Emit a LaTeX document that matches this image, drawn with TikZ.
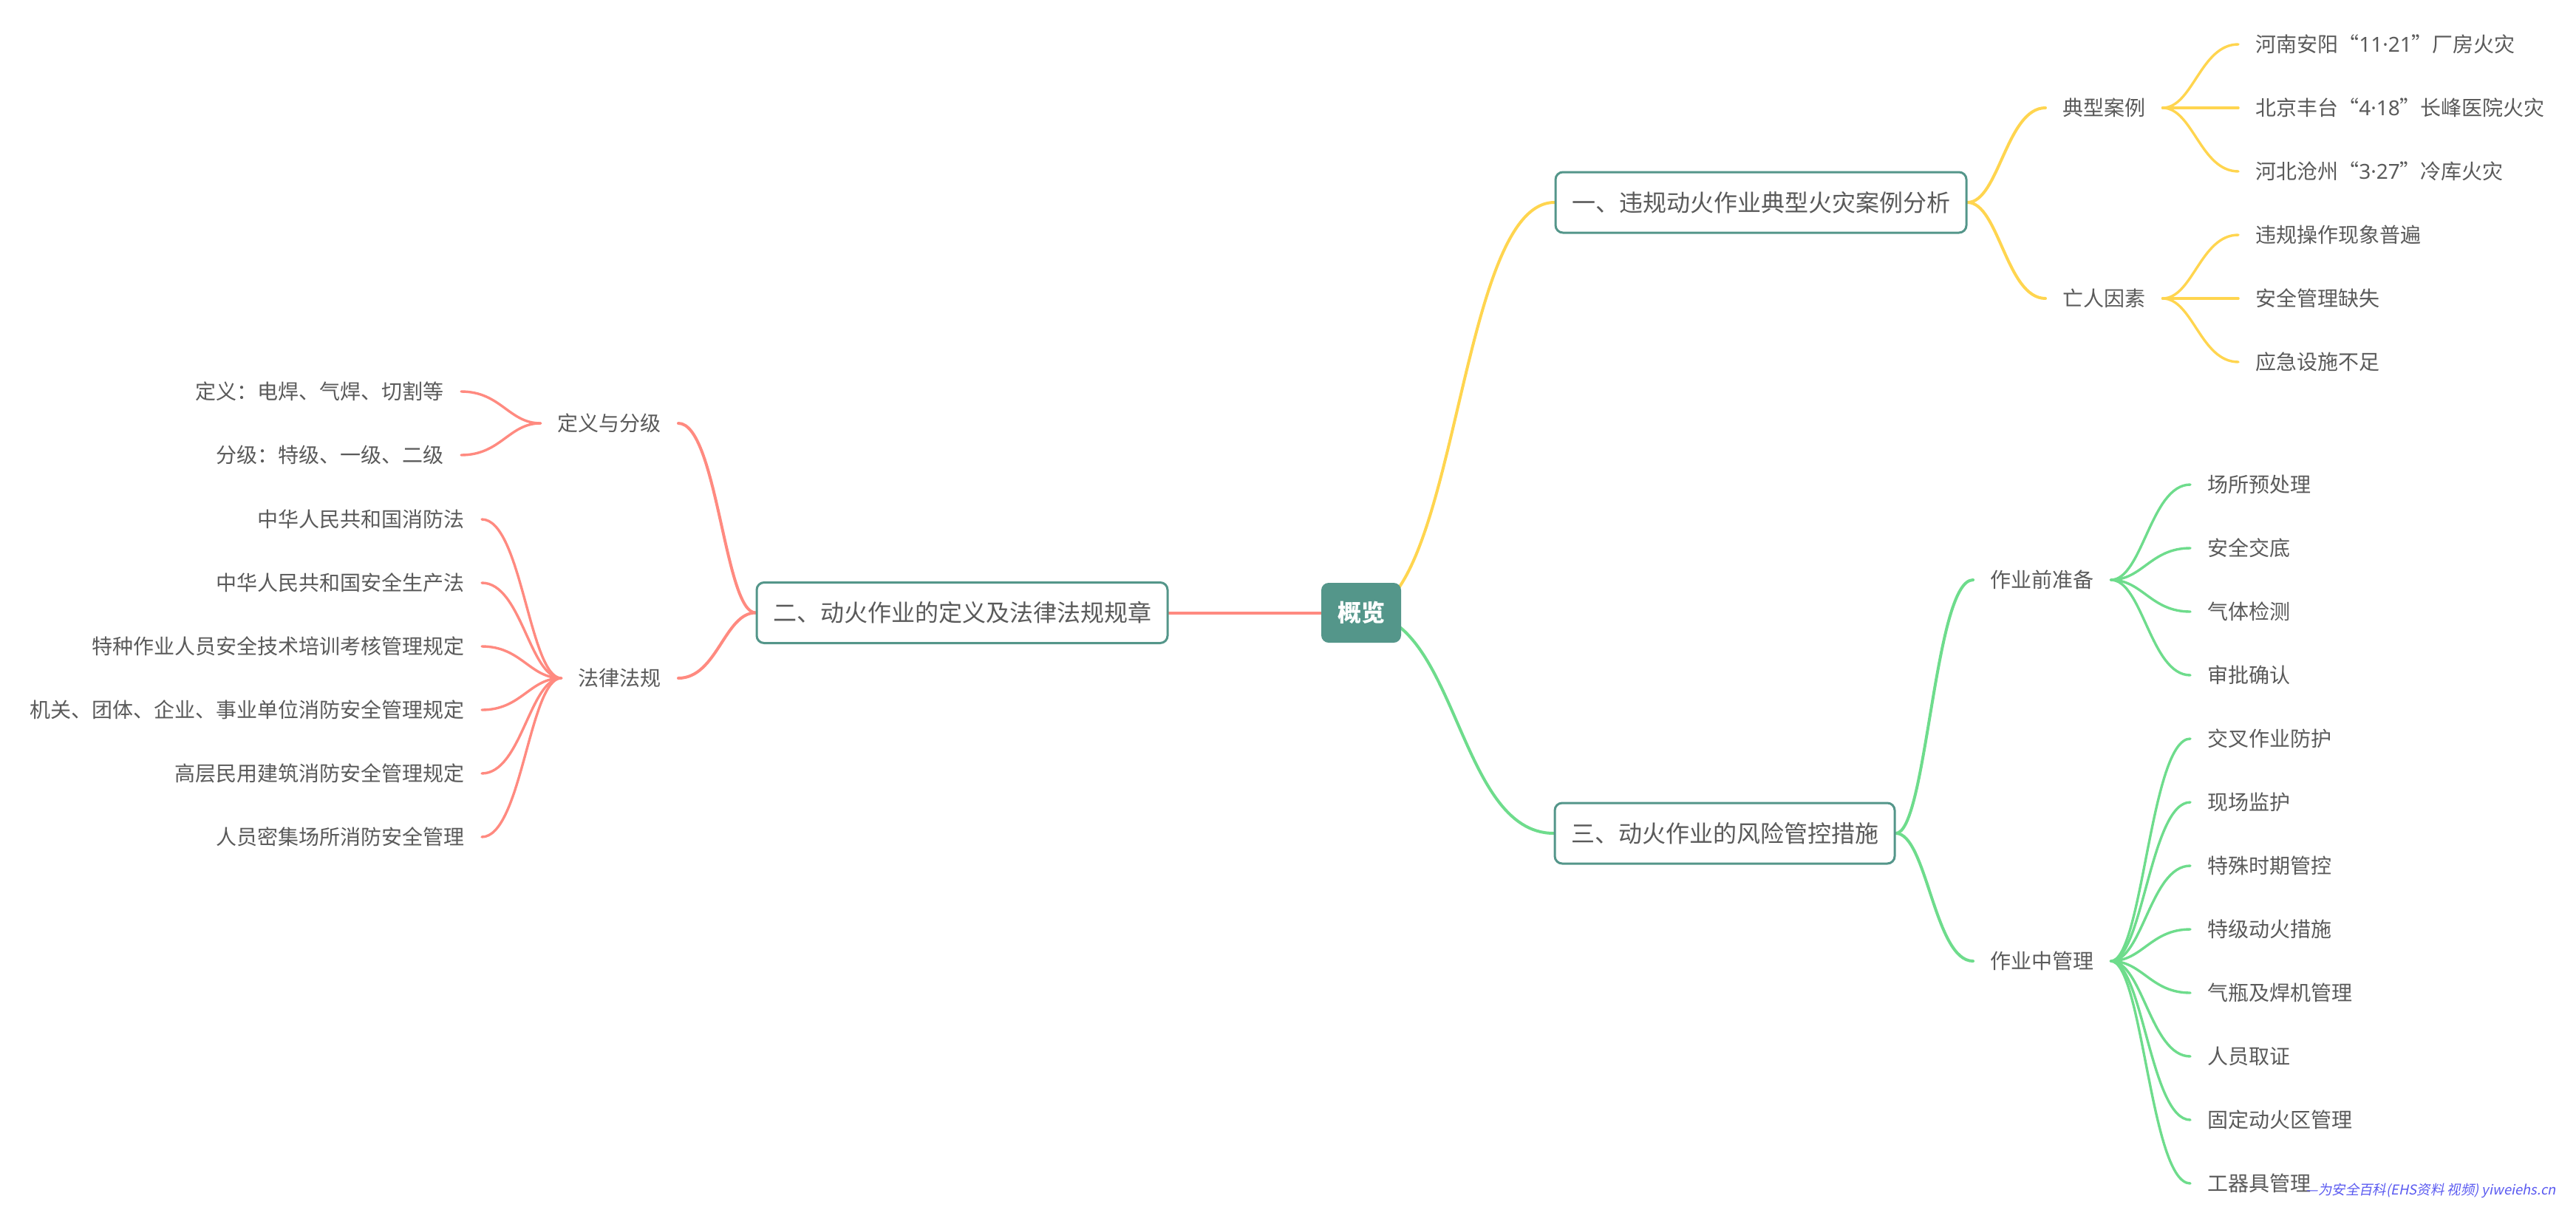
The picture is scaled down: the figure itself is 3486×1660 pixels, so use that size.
\documentclass[tikz,border=0pt]{standalone}
\usepackage{fontspec}
\setmainfont{Noto Sans CJK SC}
\newfontfamily\latn{Noto Sans}
\newfontfamily\wmfont[FakeSlant=0.2]{Noto Sans CJK SC}
\usetikzlibrary{calc}
\definecolor{tealc}{HTML}{54968A}
\definecolor{ylw}{HTML}{FFD54F}
\definecolor{redc}{HTML}{FF8A80}
\definecolor{grn}{HTML}{6EDC8C}
\definecolor{txt}{HTML}{5A5A5A}
\definecolor{wmblue}{HTML}{5A5AF0}
\pgfdeclarelayer{bg}
\pgfsetlayers{bg,main}
% #1 style, #2 first-control fraction, #3 from, #4 to
\newcommand\mmlink[4]{\draw[#1] let \p1=(#3), \p2=(#4) in (\p1) .. controls ({\x1+#2*(\x2-\x1)},\y1) and ({0.5*\x1+0.5*\x2},\y2) .. (\p2);}
\begin{document}
\begin{tikzpicture}[x=0.25pt,y=-0.25pt,
  box/.style={draw=tealc, line width=0.75pt, rounded corners=2.5pt, fill=white, text=txt,
    font=\fontsize{8pt}{9.6pt}\selectfont, inner xsep=5.5pt, inner ysep=0pt, minimum height=20.5pt},
  cbox/.style={fill=tealc, rounded corners=2.5pt, text=white, font=\bfseries\fontsize{8pt}{9.6pt}\selectfont,
    minimum width=27pt, minimum height=20.25pt, inner sep=0pt},
  sub/.style={text=txt, font=\fontsize{7pt}{8.4pt}\selectfont, inner xsep=5.6pt, inner ysep=1pt},
  ylink/.style={draw=ylw, line width=1pt, line cap=round},
  rlink/.style={draw=redc, line width=1pt, line cap=round},
  glink/.style={draw=grn, line width=1pt, line cap=round},
  ylf/.style={draw=ylw, line width=0.85pt, line cap=round},
  rlf/.style={draw=redc, line width=0.85pt, line cap=round},
  glf/.style={draw=grn, line width=0.85pt, line cap=round}]
\useasboundingbox (0,0) rectangle (3486,1660);

% main boxes
\node[cbox] (c) at (1842,829.5) {概览};
\node[box] (b1) at (2383,274) {一、违规动火作业典型火灾案例分析};
\node[box] (b2) at (1302,829.5) {二、动火作业的定义及法律法规规章};
\node[box] (b3) at (2334,1128) {三、动火作业的风险管控措施};

% yellow branch
\node[sub, anchor=west] (y1) at (2768,146) {典型案例};
\node[sub, anchor=west] (y2) at (2768,404) {亡人因素};
\node[sub, anchor=west] (y11) at (3029,60) {河南安阳“{\latn 11·21}”厂房火灾};
\node[sub, anchor=west] (y12) at (3029,146) {北京丰台“{\latn 4·18}”长峰医院火灾};
\node[sub, anchor=west] (y13) at (3029,232) {河北沧州“{\latn 3·27}”冷库火灾};
\node[sub, anchor=west] (y21) at (3029,318) {违规操作现象普遍};
\node[sub, anchor=west] (y22) at (3029,404) {安全管理缺失};
\node[sub, anchor=west] (y23) at (3029,490) {应急设施不足};

% red branch
\node[sub, anchor=east] (r1) at (918,573) {定义与分级};
\node[sub, anchor=east] (r2) at (918,918) {法律法规};
\node[sub, anchor=east] (r11) at (624,530) {定义：电焊、气焊、切割等};
\node[sub, anchor=east] (r12) at (624,616) {分级：特级、一级、二级};
\node[sub, anchor=east] (r21) at (652,703) {中华人民共和国消防法};
\node[sub, anchor=east] (r22) at (652,789) {中华人民共和国安全生产法};
\node[sub, anchor=east] (r23) at (652,875) {特种作业人员安全技术培训考核管理规定};
\node[sub, anchor=east] (r24) at (652,961) {机关、团体、企业、事业单位消防安全管理规定};
\node[sub, anchor=east] (r25) at (652,1047) {高层民用建筑消防安全管理规定};
\node[sub, anchor=east] (r26) at (652,1133) {人员密集场所消防安全管理};

% green branch
\node[sub, anchor=west] (g1) at (2670,785) {作业前准备};
\node[sub, anchor=west] (g2) at (2670,1301) {作业中管理};
\node[sub, anchor=west] (g11) at (2964,656) {场所预处理};
\node[sub, anchor=west] (g12) at (2964,742) {安全交底};
\node[sub, anchor=west] (g13) at (2964,828) {气体检测};
\node[sub, anchor=west] (g14) at (2964,914) {审批确认};
\node[sub, anchor=west] (g21) at (2964,1000) {交叉作业防护};
\node[sub, anchor=west] (g22) at (2964,1086) {现场监护};
\node[sub, anchor=west] (g23) at (2964,1172) {特殊时期管控};
\node[sub, anchor=west] (g24) at (2964,1258) {特级动火措施};
\node[sub, anchor=west] (g25) at (2964,1344) {气瓶及焊机管理};
\node[sub, anchor=west] (g26) at (2964,1430) {人员取证};
\node[sub, anchor=west] (g27) at (2964,1516) {固定动火区管理};
\node[sub, anchor=west] (g28) at (2964,1602) {工器具管理};

% watermark
\node[anchor=west, text=wmblue, inner sep=0pt, font=\wmfont\fontsize{4.6pt}{5pt}\selectfont] (wm) at (3120,1612) {—为安全百科(EHS资料 视频) yiweiehs.cn};

\begin{pgfonlayer}{bg}
\mmlink{ylink}{0.5}{c.center}{b1.west}
\mmlink{rlink}{0.5}{c.center}{b2.east}
\mmlink{glink}{0.5}{c.center}{b3.west}
\mmlink{ylink}{0.4}{b1.east}{y1.west}
\mmlink{ylink}{0.4}{b1.east}{y2.west}
\mmlink{rlink}{0.4}{b2.west}{r1.east}
\mmlink{rlink}{0.4}{b2.west}{r2.east}
\mmlink{glink}{0.4}{b3.east}{g1.west}
\mmlink{glink}{0.4}{b3.east}{g2.west}
\foreach \l in {y11,y12,y13}{\mmlink{ylf}{0.4}{y1.east}{\l.west}}
\foreach \l in {y21,y22,y23}{\mmlink{ylf}{0.4}{y2.east}{\l.west}}
\foreach \l in {r11,r12}{\mmlink{rlf}{0.4}{r1.west}{\l.east}}
\foreach \l in {r21,r22,r23,r24,r25,r26}{\mmlink{rlf}{0.4}{r2.west}{\l.east}}
\foreach \l in {g11,g12,g13,g14}{\mmlink{glf}{0.4}{g1.east}{\l.west}}
\foreach \l in {g21,g22,g23,g24,g25,g26,g27,g28}{\mmlink{glf}{0.4}{g2.east}{\l.west}}
\end{pgfonlayer}
\end{tikzpicture}
\end{document}
